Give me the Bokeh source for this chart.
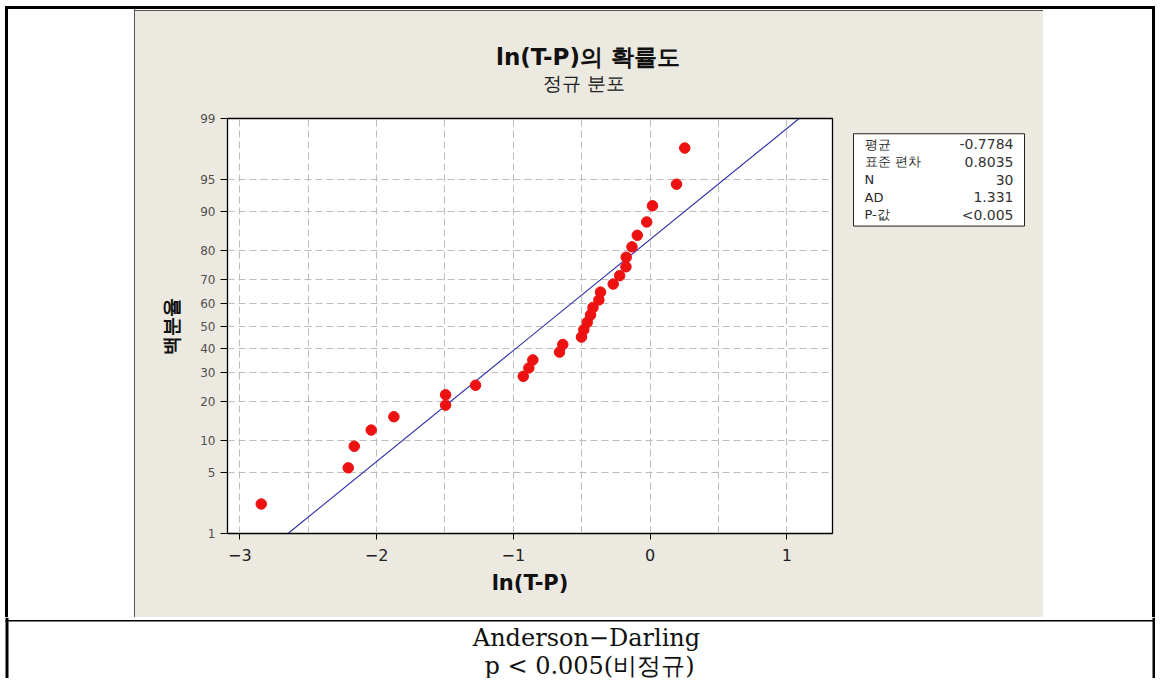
from statistics import NormalDist
from bokeh.plotting import figure
from bokeh.layouts import column, row
from bokeh.models import Range1d, FixedTicker, Spacer
from bokeh.core.properties import value
from bokeh.embed import file_html
from bokeh.resources import INLINE

# ---------------- data ----------------
ln_tp = [-2.843, -2.207, -2.163, -2.039, -1.873, -1.495, -1.495, -1.276, -0.927, -0.886,
         -0.857, -0.662, -0.638, -0.501, -0.484, -0.459, -0.435, -0.417, -0.374, -0.362,
         -0.269, -0.222, -0.176, -0.174, -0.132, -0.093, -0.024, 0.018, 0.194, 0.254]
pct = [2.30, 5.59, 8.88, 12.17, 15.46, 18.75, 22.04, 25.33, 28.62, 31.91,
       35.20, 38.49, 41.78, 45.07, 48.36, 51.64, 54.93, 58.22, 61.51, 64.80,
       68.09, 71.38, 74.67, 77.96, 81.25, 84.54, 87.83, 91.12, 94.41, 97.70]
y_tick_pct = [1, 5, 10, 20, 30, 40, 50, 60, 70, 80, 90, 95, 99]
x_ticks = [-3, -2, -1, 0, 1]
x_half_ticks = [-2.5, -1.5, -0.5, 0.5]
fit_mean = -0.7784
fit_sd = 0.8035
stat_names = ["평균", "표준 편차", "N", "AD", "P-값"]
stat_values = ["-0.7784", "0.8035", "30", "1.331", "<0.005"]
title_text = "ln(T-P)의 확률도"
subtitle_text = "정규 분포"
x_label = "ln(T-P)"
y_label = "백분율"
note_lines = ["Anderson−Darling", "p < 0.005(비정규)"]

# ---------------- helpers ----------------
nd = NormalDist()
def zq(p):
    return nd.inv_cdf(p / 100.0)

BEIGE = "#ECE9E1"
SANS = "DejaVu Sans"
SERIF = "DejaVu Serif"

def bar(w, h, color):
    return Spacer(width=w, height=h, styles={"background-color": color})

def blank_fig(w, h, x0, x1, y0, y1, bg):
    f = figure(width=w, height=h, output_backend="svg", toolbar_location=None,
               x_range=Range1d(x0, x1), y_range=Range1d(y1, y0),
               x_axis_location=None, y_axis_location=None,
               min_border=0, min_border_left=0, min_border_right=0,
               min_border_top=0, min_border_bottom=0,
               background_fill_color=bg, border_fill_color=bg, outline_line_color=None,
               styles={"background-color": bg})
    f.xgrid.visible = False
    f.ygrid.visible = False
    return f

# ---------------- title strip ----------------
tf = blank_fig(908, 89, 135, 1043, 11, 100, BEIGE)
tf.text(x=[587.5], y=[56.5], text=[title_text], text_align="center", text_baseline="middle",
        text_font=value(SANS), text_font_style="bold", text_font_size="23px", text_color="#111111")
tf.text(x=[583.5], y=[82], text=[subtitle_text], text_align="center", text_baseline="middle",
        text_font=value(SANS), text_font_size="19px", text_color="#222222")

# ---------------- probability plot ----------------
p = figure(width=705, height=517, output_backend="svg", toolbar_location=None,
           x_range=Range1d(-3.090, 1.3346), y_range=Range1d(zq(y_tick_pct[0]), zq(y_tick_pct[-1])),
           min_border_left=92, min_border_right=8, min_border_top=18, min_border_bottom=84,
           border_fill_color=BEIGE, background_fill_color="white",
           outline_line_color="black", outline_line_width=1.3,
           styles={"background-color": BEIGE})

xa = p.xaxis[0]
xa.ticker = FixedTicker(ticks=x_ticks, minor_ticks=x_half_ticks)
xa.major_tick_out = 6
xa.major_tick_in = 0
xa.minor_tick_out = 0
xa.minor_tick_in = 0
xa.axis_line_color = "black"
xa.major_label_text_font = SANS
xa.major_label_text_font_size = "16px"
xa.major_label_text_color = "#222222"
xa.major_label_standoff = 9
xa.axis_label = x_label
xa.axis_label_text_font = SANS
xa.axis_label_text_font_style = "bold"
xa.axis_label_text_font_size = "21px"
xa.axis_label_text_color = "#111111"
xa.axis_label_standoff = 7

ya = p.yaxis[0]
y_tick_z = [zq(v) for v in y_tick_pct]
ya.ticker = FixedTicker(ticks=y_tick_z, minor_ticks=[])
ya.major_label_overrides = {t: str(v) for t, v in zip(y_tick_z, y_tick_pct)}
ya.major_tick_out = 7
ya.major_tick_in = 0
ya.minor_tick_out = 0
ya.minor_tick_in = 0
ya.axis_line_color = "black"
ya.major_label_text_font = SANS
ya.major_label_text_font_size = "12px"
ya.major_label_text_color = "#505050"
ya.major_label_standoff = 5
ya.axis_label = y_label
ya.axis_label_text_font = SANS
ya.axis_label_text_font_style = "bold"
ya.axis_label_text_font_size = "19px"
ya.axis_label_text_color = "#111111"
ya.axis_label_standoff = 15

for g in (p.xgrid[0], p.ygrid[0]):
    g.grid_line_color = "#BDBDBD"
    g.grid_line_dash = "7 4"
    g.grid_line_width = 1
p.xgrid[0].minor_grid_line_color = "#BDBDBD"
p.xgrid[0].minor_grid_line_dash = "7 4"

fit_z = [zq(y_tick_pct[0]), zq(y_tick_pct[-1])]
p.line(x=[fit_mean + fit_sd * v for v in fit_z], y=fit_z, line_color="#2E2EA8", line_width=1.1)
p.scatter(x=ln_tp, y=[zq(v) for v in pct], size=10.5, fill_color="#EE1111", line_color="#EE1111")

# ---------------- stats box ----------------
sf = blank_fig(203, 517, 840, 1043, 100, 617, BEIGE)
sf.quad(left=[853], right=[1024], top=[119], bottom=[234], fill_color="white", line_color="#222222", line_width=1)
row_y = [132, 154, 176, 198, 220]
sf.text(x=[864] * len(stat_names), y=row_y, text=stat_names, text_align="left", text_baseline="middle",
        text_font=value(SANS), text_font_size="13px", text_color="#2a2a2a")
sf.text(x=[1013] * len(stat_values), y=row_y, text=stat_values, text_align="right", text_baseline="middle",
        text_font=value(SANS), text_font_size="14px", text_color="#333333")

# ---------------- notes strip ----------------
nf = blank_fig(1155, 61, 0, 1155, 617, 678, "white")
nf.quad(left=[5, 1152, 5], right=[8, 1155, 1155], top=[617, 617, 619.5], bottom=[678, 678, 621],
        fill_color="black", line_color=None)
nf.text(x=[586, 589], y=[637, 665], text=note_lines, text_align="center", text_baseline="middle",
        text_font=value(SERIF), text_font_size="24px", text_color="#111111")

# ---------------- page layout ----------------
plot_row = row(p, sf, spacing=0, styles={"background-color": BEIGE})
chart_area = column(bar(908, 1, "white"), bar(908, 1, "#555555"), tf, plot_row, spacing=0,
                    styles={"background-color": BEIGE})
middle = row(Spacer(width=5, height=608), bar(3, 608, "black"), Spacer(width=126, height=608),
             bar(1, 608, "#555555"), chart_area, Spacer(width=109, height=608), bar(3, 608, "black"),
             spacing=0)
top = column(Spacer(width=1155, height=6),
             row(Spacer(width=5, height=3), bar(1150, 3, "black"), spacing=0), spacing=0)
page = column(top, middle, nf, spacing=0)

open("out.html", "w").write(file_html(page, INLINE))
